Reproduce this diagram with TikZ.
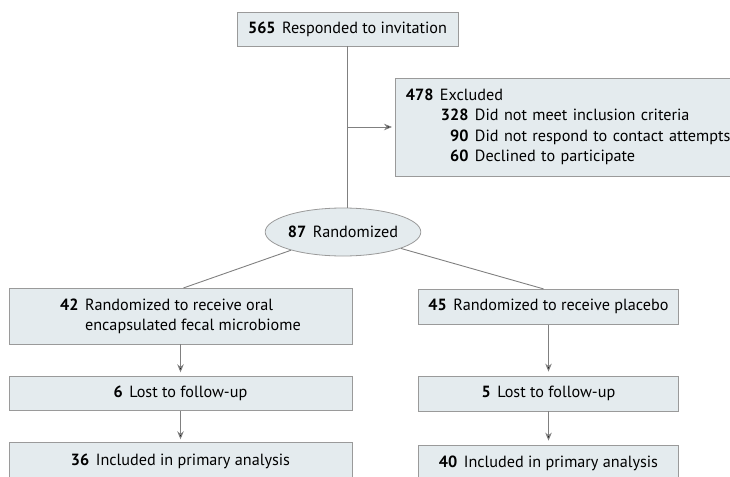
\documentclass[tikz,border=0pt]{standalone}
\usepackage{fontspec}
\setmainfont{PT Sans}
\usepackage{xcolor}
\usepackage{tikz}
\usetikzlibrary{arrows.meta}
\usetikzlibrary{shapes}

\definecolor{boxfill}{HTML}{E4EBEE}
\definecolor{boxline}{HTML}{9A9A9A}
\definecolor{flowline}{HTML}{808080}
\newcommand{\cnt}[1]{\textbf{#1}\hskip 6.5pt}

\begin{document}
\begin{tikzpicture}[x=1pt,y=-1pt,>={Stealth[length=8pt,width=6.5pt]},
                    font=\fontsize{16.2}{20.5}\selectfont]
\tikzstyle{every node}=[draw=boxline,fill=boxfill,line width=0.8pt,inner sep=0pt]
\tikzstyle{box}=[rectangle]
\useasboundingbox (0,0) rectangle (730,476);
\clip (0,0) rectangle (730,476);
\path
node[box,minimum width=221pt,minimum height=34pt] (invite) at (347.5,29) {\cnt{565}Responded to invitation}
node[box,anchor=west,text width=345pt,inner xsep=10.5pt,minimum height=98pt,align=left] (excl) at (395,127)
  {\cnt{478}Excluded\\
   \hspace*{35pt}\cnt{328}Did not meet inclusion criteria\\
   \hspace*{35pt}\hphantom{\textbf{3}}\cnt{90}Did not respond to contact attempts\\
   \hspace*{35pt}\hphantom{\textbf{3}}\cnt{60}Declined to participate}
node[ellipse,minimum width=154pt,minimum height=48pt] (rand) at (343,232) {\cnt{87}Randomized}
node[box,minimum width=343pt,minimum height=55.7pt,align=left] (armA) at (180.5,316.2)
  {\cnt{42}Randomized to receive oral\\\hphantom{\cnt{42}}encapsulated fecal microbiome}
node[box,minimum width=260.4pt,minimum height=35pt] (armB) at (548.5,306.8) {\cnt{45}Randomized to receive placebo}
node[box,minimum width=343pt,minimum height=34pt] (lostA) at (180.5,393.7) {\cnt{6}Lost to follow-up}
node[box,minimum width=260.4pt,minimum height=35pt] (lostB) at (548.5,393.5) {\cnt{5}Lost to follow-up}
node[box,minimum width=343pt,minimum height=37pt] (inclA) at (180.5,461.2) {\cnt{36}Included in primary analysis}
node[box,minimum width=260.4pt,minimum height=37pt] (inclB) at (548.5,463.5) {\cnt{40}Included in primary analysis};

\coordinate (split) at (invite.south |- excl.west);

\path[draw=flowline,line width=0.9pt]
      (invite.south) edge (invite.south |- rand.north)
      (split) edge[->,shorten >=3pt] (excl.west)
      (rand) edge ([xshift=3pt]armA.north) edge ([xshift=-5pt]armB.north)
      (armA) edge[->,shorten >=4pt] (lostA)
      (lostA) edge[->,shorten >=3pt] (inclA)
      (armB) edge[->,shorten >=4pt] (lostB)
      (lostB) edge[->,shorten >=4pt] (inclB);
\end{tikzpicture}
\end{document}
